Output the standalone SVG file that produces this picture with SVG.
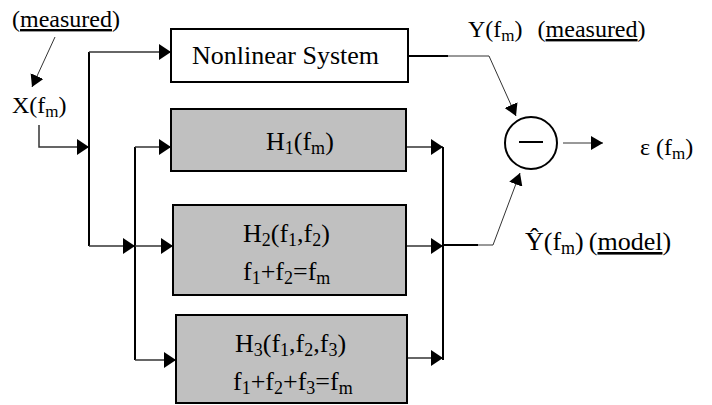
<svg xmlns="http://www.w3.org/2000/svg" width="712" height="405" viewBox="0 0 712 405">
<defs>
<marker id="ah" markerUnits="userSpaceOnUse" markerWidth="13" markerHeight="16" refX="12" refY="8" orient="auto"><path d="M0,0 L12,8 L0,16 z" fill="#000"/></marker>
<marker id="ahs" markerUnits="userSpaceOnUse" markerWidth="13" markerHeight="14" refX="12" refY="7" orient="auto"><path d="M0,0 L12,7 L0,14 z" fill="#000"/></marker>
</defs>
<style>
text{font-family:"Liberation Serif","Times New Roman",serif;fill:#000}
.bt{font-size:26px}
.lb{font-size:24px}
.box{stroke:#000;stroke-width:2}
.w{fill:#fff}
.g{fill:#c0c0c0}
.c{fill:none;stroke:#333;stroke-width:1.5}
.bus{fill:none;stroke:#000;stroke-width:2}
.t{fill:none;stroke:#333;stroke-width:1}
</style>
<rect width="712" height="405" fill="#fff"/>
<g id="connectors">
<path class="c" d="M39,125 V147 H89" marker-end="url(#ah)"/>
<path class="bus" d="M89,246 V52"/>
<path class="c" d="M89,52 H171" marker-end="url(#ah)"/>
<path class="c" d="M89,246 H135" marker-end="url(#ah)"/>
<path class="bus" d="M135,147 V360"/>
<path class="c" d="M135,147 H171" marker-end="url(#ah)"/>
<path class="c" d="M135,246 H173" marker-end="url(#ah)"/>
<path class="c" d="M135,360 H176" marker-end="url(#ah)"/>
<path class="c" d="M406,147 H443" marker-end="url(#ah)"/>
<path class="c" d="M406,246 H443" marker-end="url(#ah)"/>
<path class="c" d="M407,358 H443" marker-end="url(#ah)"/>
<path class="bus" d="M443,147 V360"/>
<path class="bus" d="M443,245 H478"/>
<path class="t" d="M478,245 H493 L520,173" marker-end="url(#ahs)"/>
<path class="bus" d="M408,56 H448"/>
<path class="t" d="M448,56 H489 L516,116" marker-end="url(#ahs)"/>
<path class="t" d="M563,143 H603" marker-end="url(#ahs)"/>
<path class="t" d="M55,37 L32,87" marker-end="url(#ahs)"/>
</g>
<g id="nonlinear">
<rect class="box w" x="171" y="29" width="237" height="53"/>
<text class="bt" x="192" y="64">Nonlinear System</text>
</g>
<g id="h1">
<rect class="box g" x="171" y="109" width="235" height="62"/>
<text class="bt" x="266" y="150">H<tspan font-size="18" dy="4">1</tspan><tspan dy="-4">(f</tspan><tspan font-size="18" dy="4">m</tspan><tspan dy="-4">)</tspan></text>
</g>
<g id="h2">
<rect class="box g" x="173" y="205" width="233" height="90"/>
<text class="bt" x="243" y="242">H<tspan font-size="18" dy="4">2</tspan><tspan dy="-4">(f</tspan><tspan font-size="18" dy="4">1</tspan><tspan dy="-4">,f</tspan><tspan font-size="18" dy="4">2</tspan><tspan dy="-4">)</tspan></text>
<text class="bt" x="243" y="280">f<tspan font-size="18" dy="4">1</tspan><tspan dy="-4">+f</tspan><tspan font-size="18" dy="4">2</tspan><tspan dy="-4">=f</tspan><tspan font-size="18" dy="4">m</tspan></text>
</g>
<g id="h3">
<rect class="box g" x="176" y="315" width="231" height="88"/>
<text class="bt" x="235" y="352">H<tspan font-size="18" dy="4">3</tspan><tspan dy="-4">(f</tspan><tspan font-size="18" dy="4">1</tspan><tspan dy="-4">,f</tspan><tspan font-size="18" dy="4">2</tspan><tspan dy="-4">,f</tspan><tspan font-size="18" dy="4">3</tspan><tspan dy="-4">)</tspan></text>
<text class="bt" x="233" y="390">f<tspan font-size="18" dy="4">1</tspan><tspan dy="-4">+f</tspan><tspan font-size="18" dy="4">2</tspan><tspan dy="-4">+f</tspan><tspan font-size="18" dy="4">3</tspan><tspan dy="-4">=f</tspan><tspan font-size="18" dy="4">m</tspan></text>
</g>
<g id="sum">
<circle cx="531" cy="143" r="26" fill="#fff" stroke="#000" stroke-width="2"/>
<path d="M519,142 H543" stroke="#000" stroke-width="2"/>
</g>
<g id="labels">
<text class="lb" x="12" y="27">(<tspan text-decoration="underline">measured</tspan>)</text>
<text class="lb" x="12" y="113">X(f<tspan font-size="17" dy="4">m</tspan><tspan dy="-4">)</tspan></text>
<text class="lb" x="468" y="37">Y(f<tspan font-size="17" dy="4">m</tspan><tspan dy="-4">)</tspan><tspan dx="15">(</tspan><tspan text-decoration="underline">measured</tspan>)</text>
<text class="lb" x="640" y="155">ε (f<tspan font-size="17" dy="4">m</tspan><tspan dy="-4">)</tspan></text>
<text x="525" y="250" style="font-size:26px">Ŷ(f<tspan font-size="18" dy="4">m</tspan><tspan dy="-4">)</tspan><tspan dx="5">(</tspan><tspan text-decoration="underline">model</tspan>)</text>
</g>
</svg>
